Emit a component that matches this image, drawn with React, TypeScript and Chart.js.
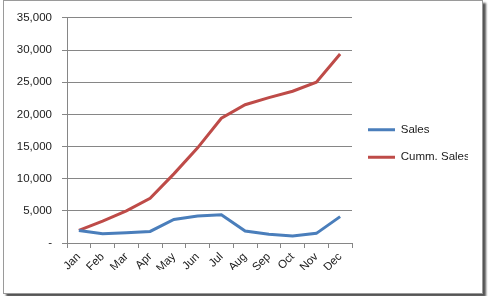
import React, { useEffect, useRef } from "react";
import { Chart, registerables } from "chart.js";

Chart.register(...registerables);

const months = ["Jan", "Feb", "Mar", "Apr", "May", "Jun", "Jul", "Aug", "Sep", "Oct", "Nov", "Dec"];
const sales = [1950, 1450, 1600, 1800, 3650, 4200, 4400, 1850, 1350, 1100, 1500, 4100];
const cummSales = [1950, 3400, 5000, 6950, 10750, 14800, 19400, 21500, 22600, 23600, 25000, 29400];
const yTicks = [0, 5000, 10000, 15000, 20000, 25000, 30000, 35000];

const FONT = "'Liberation Sans', Arial, sans-serif";
const FS = 11.5;
const TXT = "#1a1a1a";
const GRID = "#868686";
const W = 478;
const H = 292;
const PAD_BOTTOM = 23;

export default function App() {
  const ref = useRef<HTMLCanvasElement | null>(null);

  useEffect(() => {
    if (!ref.current) return;
    const chart = new Chart(ref.current, {
      type: "line",
      data: {
        labels: months,
        datasets: [
          {
            label: "Sales",
            data: sales,
            borderColor: "#4a7ebb",
            backgroundColor: "#4a7ebb",
            borderWidth: 3,
            pointRadius: 0,
            tension: 0,
          },
          {
            label: "Cumm. Sales",
            data: cummSales,
            borderColor: "#be4b48",
            backgroundColor: "#be4b48",
            borderWidth: 3,
            pointRadius: 0,
            tension: 0,
          },
        ],
      },
      options: {
        responsive: false,
        animation: false,
        layout: { padding: { top: 16, right: 14, bottom: PAD_BOTTOM, left: 0 } },
        font: { family: FONT, size: FS },
        plugins: {
          tooltip: { enabled: false },
          legend: {
            position: "right",
            align: "center",
            labels: {
              boxWidth: 27,
              boxHeight: 3,
              padding: 16,
              color: TXT,
              font: { family: FONT, size: FS },
              generateLabels: (c: any) =>
                Chart.defaults.plugins.legend.labels
                  .generateLabels(c)
                  .map((l: any) => ({ ...l, lineWidth: 0 })),
            },
          },
        },
        scales: {
          x: {
            type: "category",
            offset: true,
            grid: {
              offset: true,
              drawOnChartArea: false,
              drawTicks: true,
              tickLength: 5,
              color: GRID,
            },
            border: { display: true, color: GRID, width: 1 },
            ticks: {
              minRotation: 45,
              maxRotation: 45,
              autoSkip: false,
              padding: 2,
              color: TXT,
              font: { family: FONT, size: FS },
            },
            afterFit: (s: any) => {
              s.height = H - PAD_BOTTOM - 242;
            },
          },
          y: {
            min: 0,
            max: 35000,
            afterBuildTicks: (s: any) => {
              s.ticks = yTicks.map((v) => ({ value: v }));
            },
            grid: {
              color: GRID,
              tickLength: 5,
              drawTicks: true,
            },
            border: { display: true, color: GRID, width: 1 },
            ticks: {
              padding: 10,
              color: TXT,
              font: { family: FONT, size: FS },
              callback: (v: any) => (Number(v) === 0 ? "-" : Number(v).toLocaleString("en-US")),
            },
            afterFit: (s: any) => {
              s.width = 63;
            },
          },
        },
      },
    });
    return () => chart.destroy();
  }, []);

  return (
    <div
      style={{
        position: "absolute",
        left: 3,
        top: 0,
        width: 480,
        height: 294,
        boxSizing: "border-box",
        border: "1px solid #9a9a9a",
        background: "#fff",
        boxShadow: "3px 3px 2px #555",
      }}
    >
      <canvas ref={ref} width={W} height={H} style={{ display: "block" }} />
    </div>
  );
}
